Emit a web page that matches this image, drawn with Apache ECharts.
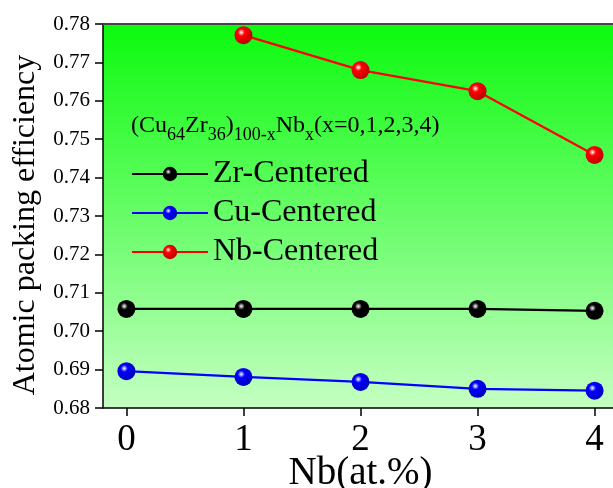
<!DOCTYPE html>
<html><head><meta charset="utf-8">
<script src="https://cdn.jsdelivr.net/npm/echarts@6/dist/echarts.min.js"></script>
<style>html,body{margin:0;padding:0;background:#fff}#c{width:613px;height:488px}</style>
</head><body><div id="c"></div>
<script>
const xValues = [0, 1, 2, 3, 4];
const zrCentered = [0.7058, 0.7058, 0.7058, 0.7058, 0.7053];
const cuCentered = [0.6896, 0.6881, 0.6868, 0.6850, 0.6845];
const nbX = [1, 2, 3, 4];
const nbCentered = [0.7771, 0.7680, 0.7625, 0.7459];
const yTicks = [0.68, 0.69, 0.70, 0.71, 0.72, 0.73, 0.74, 0.75, 0.76, 0.77, 0.78];

const font = '"Liberation Serif","Times New Roman",serif';
function ball(c, dark) {
  return {type:'radial', x:0.38, y:0.35, r:0.65, colorStops:[
    {offset:0, color:'#ffffff'}, {offset:0.3, color:c}, {offset:1, color:dark}]};
}
function series(name, xs, ys, c, dark) {
  return {name, type:'line', data: xs.map((x,i)=>[x, ys[i]]),
    symbol:'circle', symbolSize:18, lineStyle:{color:c, width:2.2},
    itemStyle:{color: ball(c, dark), borderWidth:0}, color:c, z:3};
}
const chart = echarts.init(document.getElementById('c'));
chart.setOption({
  animation:false,
  backgroundColor:'#fff',
  title:{text:'(Cu{s|64}Zr{s|36}){s|100-x}Nb{s|x}(x=0,1,2,3,4)', left:126, top:103,
    textStyle:{fontFamily:font, fontSize:24, fontWeight:'normal', color:'#000',
      rich:{s:{fontFamily:font, fontSize:18, verticalAlign:'bottom', padding:[18,0,0,0], color:'#000'}}}},
  legend:{orient:'vertical', left:126, top:153, itemWidth:76, itemHeight:18, itemGap:7,
    textStyle:{fontFamily:font, fontSize:32, color:'#000'},
    data:['Zr-Centered','Cu-Centered','Nb-Centered']},
  grid:{left:103, top:24, width:515, height:384, containLabel:false, outerBoundsMode:'none',
    show:true, borderWidth:0,
    backgroundColor:{type:'linear', x:0, y:0, x2:0, y2:1, colorStops:[
      {offset:0, color:'#0cfa0e'}, {offset:1, color:'#c4ffc2'}]}},
  xAxis:{type:'value', min:-0.2, max:4.2, interval:1,
    name:'Nb(at.%)', nameLocation:'middle', nameGap:46, nameMoveOverlap:false,
    nameTextStyle:{fontFamily:font, fontSize:39, color:'#000'},
    axisLine:{show:true, onZero:false, lineStyle:{color:'#000', width:1.5}},
    axisTick:{show:true, length:8, customValues:xValues, lineStyle:{color:'#000', width:1.5}},
    axisLabel:{fontFamily:font, fontSize:37, color:'#000', margin:14,
      customValues:xValues, formatter:v=>String(v)},
    splitLine:{show:false}},
  yAxis:{type:'value', min:0.68, max:0.78, interval:0.01,
    name:'Atomic packing efficiency', nameLocation:'middle', nameGap:61, nameMoveOverlap:false,
    nameTextStyle:{fontFamily:font, fontSize:32, color:'#000', padding:[0,18,0,0]},
    axisLine:{show:true, onZero:false, lineStyle:{color:'#000', width:1.5}},
    axisTick:{show:true, length:8, lineStyle:{color:'#000', width:1.5}},
    axisLabel:{fontFamily:font, fontSize:21, color:'#000', margin:13, formatter:v=>v.toFixed(2)},
    splitLine:{show:false}},
  graphic:[{type:'line', shape:{x1:103, y1:24, x2:613, y2:24}, style:{stroke:'#444', lineWidth:2}, z:10}],
  series:[
    series('Zr-Centered', xValues, zrCentered, '#000000', '#000000'),
    series('Cu-Centered', xValues, cuCentered, '#0000ff', '#0000c0'),
    series('Nb-Centered', nbX, nbCentered, '#ff0000', '#c00000')
  ]
});
</script></body></html>
